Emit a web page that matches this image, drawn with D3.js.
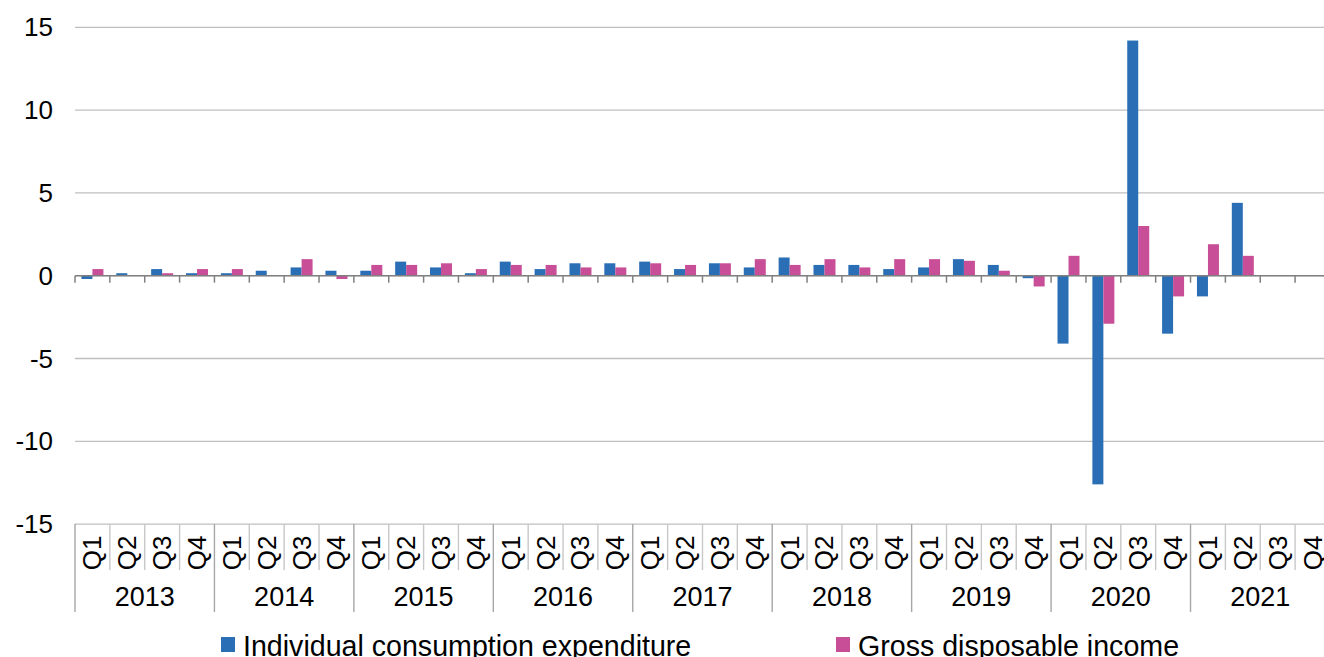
<!DOCTYPE html>
<html>
<head>
<meta charset="utf-8">
<script src="https://cdn.jsdelivr.net/npm/d3@7"></script>
<style>
  html, body { margin: 0; padding: 0; background: #fff; }
  svg { display: block; }
  text { font-family: "Liberation Sans", Arial, sans-serif; fill: #000; }
</style>
</head>
<body>
<svg id="chart" width="1324" height="657"></svg>
<script>
const years = ["2013", "2014", "2015", "2016", "2017", "2018", "2019", "2020", "2021"];
const quarters = ["Q1", "Q2", "Q3", "Q4"];
const seriesNames = ["Individual consumption expenditure", "Gross disposable income"];
const seriesColors = ["#2a6eb5", "#c84f97"];
const consumption = [
  -0.2, 0.15, 0.4, 0.15,
  0.15, 0.3, 0.5, 0.3,
  0.3, 0.85, 0.5, 0.15,
  0.85, 0.4, 0.75, 0.75,
  0.85, 0.4, 0.75, 0.5,
  1.1, 0.65, 0.65, 0.4,
  0.5, 1.0, 0.65, -0.15,
  -4.1, -12.6, 14.2, -3.5,
  -1.25, 4.4, null, null
];
const income = [
  0.4, 0, 0.15, 0.4,
  0.4, 0, 1.0, -0.2,
  0.65, 0.65, 0.75, 0.4,
  0.65, 0.65, 0.5, 0.5,
  0.75, 0.65, 0.75, 1.0,
  0.65, 1.0, 0.5, 1.0,
  1.0, 0.9, 0.3, -0.65,
  1.2, -2.9, 3.0, -1.25,
  1.9, 1.2, null, null
];
const yTicks = [-15, -10, -5, 0, 5, 10, 15];

(function () {
const svg = d3.select("#chart");
const plotLeft = 75, step = 34.86;
const categories = [];
years.forEach(y => quarters.forEach(q => categories.push(y + "-" + q)));
const plotRight = plotLeft + step * categories.length;
const plotTop = 27.3, plotBottom = 524.1;

const x0 = d3.scaleBand().domain(categories).range([plotLeft, plotRight]).padding(0);
const x1 = d3.scaleBand().domain([0, 1]).range([0, x0.bandwidth()]).paddingInner(0).paddingOuter(0.585);
const y = d3.scaleLinear().domain([-15, 15]).range([plotBottom, plotTop]);

// gridlines
svg.append("g").selectAll("line").data(yTicks).join("line")
  .attr("x1", plotLeft).attr("x2", 1324)
  .attr("y1", d => y(d)).attr("y2", d => y(d))
  .attr("stroke", "#bfbfbf").attr("stroke-width", 1.3);

// y labels
svg.append("g").selectAll("text").data(yTicks).join("text")
  .attr("x", 53).attr("y", d => y(d))
  .attr("text-anchor", "end").attr("dominant-baseline", "central")
  .attr("font-size", 26)
  .text(d => d);

// bars
const data = [consumption, income];
data.forEach((vals, s) => {
  svg.append("g").selectAll("rect")
    .data(vals.map((v, i) => ({ v, c: categories[i] })).filter(d => d.v !== null))
    .join("rect")
    .attr("x", d => x0(d.c) + x1(s))
    .attr("width", x1.bandwidth())
    .attr("y", d => Math.min(y(d.v), y(0)))
    .attr("height", d => Math.abs(y(d.v) - y(0)))
    .attr("fill", seriesColors[s]);
});

// zero axis line and ticks
svg.append("line")
  .attr("x1", plotLeft).attr("x2", 1324)
  .attr("y1", y(0)).attr("y2", y(0))
  .attr("stroke", "#808080").attr("stroke-width", 1.6);
svg.append("g").selectAll("line").data(d3.range(categories.length + 1)).join("line")
  .attr("x1", i => plotLeft + i * x0.step()).attr("x2", i => plotLeft + i * x0.step())
  .attr("y1", y(0)).attr("y2", y(0) + 7)
  .attr("stroke", "#808080").attr("stroke-width", 1.5);

// category axis box
const qBottom = 570, yBottom = 612;
svg.append("g").selectAll("line").data(d3.range(categories.length + 1)).join("line")
  .attr("x1", i => plotLeft + i * x0.step()).attr("x2", i => plotLeft + i * x0.step())
  .attr("y1", plotBottom).attr("y2", i => i % 4 === 0 ? yBottom : qBottom)
  .attr("stroke", i => i % 4 === 0 ? "#a6a6a6" : "#c8c8c8").attr("stroke-width", 1.4);

// quarter labels
svg.append("g").selectAll("text").data(categories).join("text")
  .attr("transform", c => `translate(${x0(c) + x0.bandwidth() / 2},553) rotate(-90)`)
  .attr("text-anchor", "middle").attr("dominant-baseline", "central")
  .attr("font-size", 26)
  .text(c => c.split("-")[1]);

// year labels
svg.append("g").selectAll("text").data(years).join("text")
  .attr("x", yr => x0(yr + "-Q1") + 2 * x0.step())
  .attr("y", 597)
  .attr("text-anchor", "middle").attr("dominant-baseline", "central")
  .attr("font-size", 27)
  .text(yr => yr);

// legend
const legendX = [221, 836];
seriesNames.forEach((name, s) => {
  svg.append("rect").attr("x", legendX[s]).attr("y", 637).attr("width", 14).attr("height", 15)
    .attr("fill", seriesColors[s]);
  svg.append("text").attr("x", legendX[s] + 22).attr("y", 656)
    .attr("font-size", 28.6)
    .text(name);
});
})();
</script>
</body>
</html>
